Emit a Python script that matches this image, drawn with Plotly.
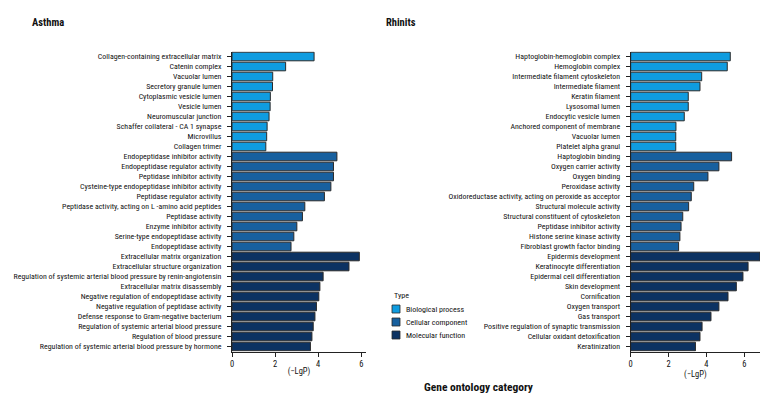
import plotly.graph_objects as go

FONT = "Roboto Condensed, Liberation Sans Narrow, Arial Narrow, sans-serif"

types = ["Biological process", "Cellular component", "Molecular function"]
colors = ["#0f9ce0", "#17609f", "#0c3262"]

asthma_bp = ["Collagen-containing extracellular matrix", "Catenin complex", "Vacuolar lumen",
             "Secretory granule lumen", "Cytoplasmic vesicle lumen", "Vesicle lumen",
             "Neuromuscular junction", "Schaffer collateral - CA 1 synapse", "Microvillus", "Collagen trimer"]
asthma_bp_v = [3.81, 2.49, 1.89, 1.88, 1.78, 1.77, 1.72, 1.63, 1.61, 1.57]
asthma_cc = ["Endopeptidase inhibitor activity", "Endopeptidase regulator activity", "Peptidase inhibitor activity",
             "Cysteine-type endopeptidase inhibitor activity", "Peptidase regulator activity",
             "Peptidase activity, acting on L -amino acid peptides", "Peptidase activity",
             "Enzyme inhibitor activity", "Serine-type endopeptidase activity", "Endopeptidase activity"]
asthma_cc_v = [4.87, 4.71, 4.71, 4.59, 4.29, 3.38, 3.27, 3.01, 2.87, 2.74]
asthma_mf = ["Extracellular matrix organization", "Extracellular structure organization",
             "Regulation of systemic arterial blood pressure by renin-angiotensin",
             "Extracellular matrix disassembly", "Negative regulation of endopeptidase activity",
             "Negative regulation of peptidase activity", "Defense response to Gram-negative bacterium",
             "Regulation of systemic arterial blood pressure", "Regulation of blood pressure",
             "Regulation of systemic arterial blood pressure by hormone"]
asthma_mf_v = [5.91, 5.43, 4.23, 4.08, 4.03, 3.92, 3.85, 3.77, 3.71, 3.64]

rhin_bp = ["Haptoglobin-hemoglobin complex", "Hemoglobin complex", "Intermediate filament cytoskeleton",
           "Intermediate filament", "Keratin filament", "Lysosomal lumen", "Endocytic vesicle lumen",
           "Anchored component of membrane", "Vacuolar lumen", "Platelet alpha granul"]
rhin_bp_v = [5.26, 5.10, 3.75, 3.66, 3.04, 3.04, 2.83, 2.39, 2.38, 2.38]
rhin_cc = ["Haptoglobin binding", "Oxygen carrier activity", "Oxygen binding", "Peroxidase activity",
           "Oxidoreductase activity, acting on peroxide as acceptor", "Structural molecule activity",
           "Structural constituent of cytoskeleton", "Peptidase inhibitor activity",
           "Histone serine kinase activity", "Fibroblast growth factor binding"]
rhin_cc_v = [5.33, 4.66, 4.08, 3.33, 3.20, 3.06, 2.75, 2.66, 2.60, 2.53]
rhin_mf = ["Epidermis development", "Keratinocyte differentiation", "Epidermal cell differentiation",
           "Skin development", "Cornification", "Oxygen transport", "Gas transport",
           "Positive regulation of synaptic transmission", "Cellular oxidant detoxification", "Keratinization"]
rhin_mf_v = [6.83, 6.20, 5.93, 5.58, 5.14, 4.66, 4.24, 3.77, 3.66, 3.42]

x_ticks = [0, 2, 4, 6]

fig = go.Figure()
left_sets = [(asthma_bp, asthma_bp_v), (asthma_cc, asthma_cc_v), (asthma_mf, asthma_mf_v)]
right_sets = [(rhin_bp, rhin_bp_v), (rhin_cc, rhin_cc_v), (rhin_mf, rhin_mf_v)]
for i, (cats, vals) in enumerate(left_sets):
    fig.add_trace(go.Bar(x=vals, y=cats, orientation="h", name=types[i],
                         marker=dict(color=colors[i], line=dict(color="#2a2a2a", width=1)),
                         xaxis="x", yaxis="y", showlegend=False))
for i, (cats, vals) in enumerate(right_sets):
    fig.add_trace(go.Bar(x=vals, y=cats, orientation="h", name=types[i],
                         marker=dict(color=colors[i], line=dict(color="#2a2a2a", width=1)),
                         xaxis="x2", yaxis="y2", showlegend=False))

left_cats = asthma_bp + asthma_cc + asthma_mf
right_cats = rhin_bp + rhin_cc + rhin_mf

# page body has an 8px margin: figure is sized to fill the remaining window
OFF = 8
W, H = 780 - OFF, 408 - OFF


def px(x):
    return (x - OFF) / W


def py(y):
    return 1 - (y - OFF) / H


ydom = [py(351.5), py(51.5)]

axis_common = dict(showline=True, linecolor="#222", linewidth=1, ticks="outside", ticklen=4,
                   tickcolor="#222", showgrid=False, zeroline=False, fixedrange=True, automargin=False)
xfont = dict(family=FONT, size=8.5, color="#111")
yfont = dict(family=FONT, size=7.9, color="#111")

fig.update_layout(
    width=W, height=H, margin=dict(l=0, r=0, t=0, b=0, autoexpand=False),
    paper_bgcolor="white", plot_bgcolor="white",
    bargap=0.14, barmode="overlay",
    font=dict(family=FONT, color="#111"),
    xaxis=dict(domain=[px(232), px(366)], range=[0, 6.22], tickvals=x_ticks, anchor="y", tickfont=xfont,
               ticklabelstandoff=0, title=dict(text="(−LgP)", font=dict(family=FONT, size=8.5), standoff=0),
               **axis_common),
    yaxis=dict(domain=ydom, anchor="x", type="category", autorange="reversed", tickmode="array",
               tickvals=left_cats, ticktext=left_cats, tickfont=yfont, ticklabelstandoff=4, **axis_common),
    xaxis2=dict(domain=[px(630.7), px(760)], range=[0, 6.83], tickvals=x_ticks, anchor="y2", tickfont=xfont,
                ticklabelstandoff=0, title=dict(text="(−LgP)", font=dict(family=FONT, size=8.5), standoff=0),
                **axis_common),
    yaxis2=dict(domain=ydom, anchor="x2", type="category", autorange="reversed", tickmode="array",
                tickvals=right_cats, ticktext=right_cats, tickfont=yfont, ticklabelstandoff=4, **axis_common),
)

annotations = [
    dict(text="<b>Asthma</b>", x=px(47.5), y=py(22), xanchor="center"),
    dict(text="<b>Rhinits</b>", x=px(401), y=py(22), xanchor="center"),
    dict(text="<b>Gene ontology category</b>", x=px(479), y=py(387), xanchor="center", size=11.5),
    dict(text="Type", x=px(391.5), y=py(295), xanchor="left", size=8),
]
anns = []
for a in annotations:
    size = a.pop("size", 10.5)
    anns.append(dict(xref="paper", yref="paper", yanchor="middle", showarrow=False,
                     font=dict(family=FONT, size=size, color="#111"), **a))

shapes = []
item_y = [309, 322, 335]
for i, t in enumerate(types):
    yc = item_y[i]
    shapes.append(dict(type="rect", xref="paper", yref="paper", x0=px(392), x1=px(400),
                       y0=py(yc + 4), y1=py(yc - 4),
                       fillcolor=colors[i], line=dict(color="#2a2a2a", width=0.8)))
    anns.append(dict(text=t, xref="paper", yref="paper", x=px(404), y=py(yc), xanchor="left",
                     yanchor="middle", showarrow=False, font=dict(family=FONT, size=8, color="#111")))

fig.update_layout(annotations=anns, shapes=shapes)
fig.write_html("out.html")
